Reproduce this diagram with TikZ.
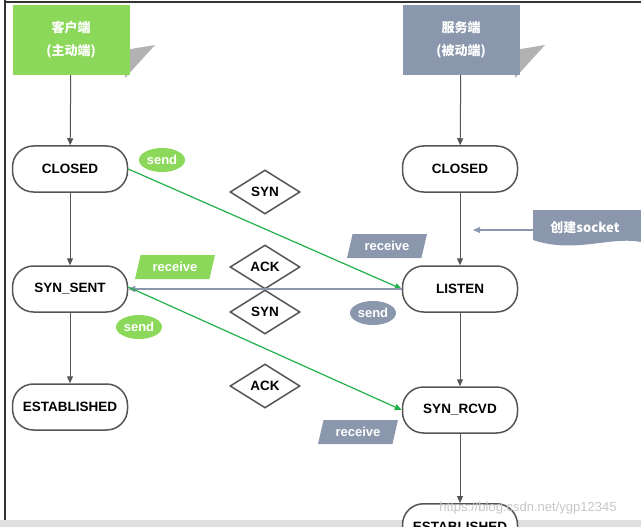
\documentclass[tikz,border=0pt]{standalone}
\usepackage{fontspec}
\setmainfont{Liberation Sans}
\newfontfamily\cjk{Noto Sans CJK SC}
\usetikzlibrary{shapes.geometric,arrows.meta}
\definecolor{cg}{HTML}{8CD85A}
\definecolor{sg}{HTML}{8A97AD}
\definecolor{ln}{HTML}{555555}
\definecolor{gl}{HTML}{22B04A}
\begin{document}
\begin{tikzpicture}[x=1pt,y=-1pt,
 state/.style={draw=ln,line width=1.5pt,fill=white,rounded corners=21pt,minimum width=115pt,minimum height=46pt,inner sep=2pt,font=\bfseries\fontsize{13.5}{15}\selectfont},
 head/.style={minimum width=117pt,minimum height=70pt,text=white,font=\cjk\bfseries\fontsize{13}{15}\selectfont,align=center},
 dia/.style={diamond,draw=ln,line width=1.5pt,fill=white,minimum width=70pt,minimum height=44pt,inner sep=0pt,aspect=1.6,font=\bfseries\fontsize{13.5}{15}\selectfont},
 lbl/.style={text=white,font=\bfseries\fontsize{13}{15}\selectfont},
 ell/.style={lbl,ellipse,inner sep=0pt,minimum width=46pt,minimum height=24pt},
 par/.style={lbl,trapezium,trapezium left angle=75,trapezium right angle=105,trapezium stretches=true,minimum height=24pt,minimum width=80pt,inner xsep=0pt,inner ysep=2pt},
 ar/.style={-{Triangle[length=7pt,width=6pt]},draw=ln,line width=1pt}]
\useasboundingbox (0,0) rectangle (641,527);
\fill[gray!25] (0,520) rectangle (641,527);
\draw[line width=2.5pt,black!80] (5,0) -- (5,520);
\draw[line width=2pt,black!80] (5,2) -- (641,2);
% headers
\fill[gray!60] (125,50) -- (155,45) -- (125,78) -- cycle;
\fill[gray!60] (515,50) -- (545,45) -- (515,78) -- cycle;
\node[head,fill=cg] (ch) at (71,40) {客户端\\[8pt](主动端)};
\node[head,fill=sg] (sh) at (461,40) {服务端\\[8pt](被动端)};
% states
\node[state] (c1) at (70,169) {CLOSED};
\node[state] (c2) at (70,289) {SYN\_SENT};
\node[state] (c3) at (70,407) {ESTABLISHED};
\node[state] (s1) at (460,169) {CLOSED};
\node[state] (s2) at (460,289) {LISTEN};
\node[state] (s3) at (460,410) {SYN\_RCVD};
\node[state,anchor=north] (s4) at (460,503) {ESTABLISHED};
\draw[ar] (ch) -- (c1); \draw[ar] (c1) -- (c2); \draw[ar] (c2) -- (c3);
\draw[ar] (sh) -- (s1); \draw[ar] (s1) -- (s2); \draw[ar] (s2) -- (s3); \draw[ar] (s3) -- (s4);
% messages
\node[dia] (d1) at (265,192) {SYN};
\node[dia] (d2) at (265,267) {ACK};
\node[dia] (d3) at (265,312) {SYN};
\node[dia] (d4) at (265,386) {ACK};
\draw[-{Triangle[length=7pt,width=6pt]},gl,line width=1.2pt] (c1.east) -- (s2.west);
\draw[-{Triangle[length=7pt,width=6pt]},sg,line width=1.5pt] (s2.west) -- (c2.east);
\draw[-{Triangle[length=7pt,width=6pt]},gl,line width=1.2pt] ([yshift=2pt]c2.east) -- (s3.west);
% labels
\node[ell,fill=cg] (l1) at (162,160) {send};
\node[par,fill=cg] (l2) at (175,267) {receive};
\node[ell,fill=cg] (l3) at (139,327) {send};
\node[par,fill=sg] (l4) at (387,246) {receive};
\node[ell,fill=sg] (l5) at (373,313) {send};
\node[par,fill=sg] (l6) at (358,432) {receive};
% socket note
\fill[sg] (533,210) -- (641,210) -- (641,242) .. controls (610,236) and (575,254) .. (533,240) -- cycle;
\node[text=white,font=\cjk\bfseries\fontsize{13}{15}\selectfont] (sk) at (585,228) {创建socket};
\coordinate (sa) at (473,230);
\draw[-{Triangle[length=7pt,width=6pt]},sg,line width=1.3pt] (533,230) -- (sa);
\node[text=gray!45,font=\fontsize{13}{15}\selectfont] (wm) at (528,508) {https://blog.csdn.net/ygp12345};
\end{tikzpicture}
\end{document}
